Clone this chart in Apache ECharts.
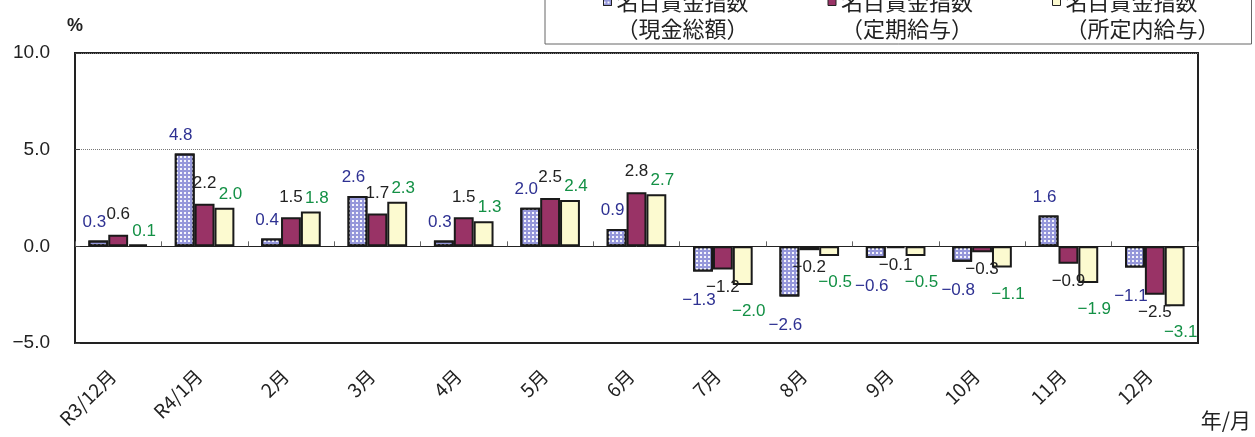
<!DOCTYPE html>
<html>
<head>
<meta charset="utf-8">
<script src="https://cdn.jsdelivr.net/npm/echarts@6/dist/echarts.min.js"></script>
<style>
  html, body { margin: 0; padding: 0; background: #fff; }
  #main { width: 1255px; height: 437px; }
</style>
</head>
<body>
<div id="main"></div>
<script>
// 月（カテゴリ）
var months = ['R3/12月', 'R4/1月', '2月', '3月', '4月', '5月', '6月', '7月', '8月', '9月', '10月', '11月', '12月']
// 名目賃金指数 前年同月比（%）
var genkin = [0.3, 4.8, 0.4, 2.6, 0.3, 2.0, 0.9, -1.3, -2.6, -0.6, -0.8, 1.6, -1.1]
var teiki = [0.6, 2.2, 1.5, 1.7, 1.5, 2.5, 2.8, -1.2, -0.2, -0.1, -0.3, -0.9, -2.5]
var shoteinai = [0.1, 2.0, 1.8, 2.3, 1.3, 2.4, 2.7, -2.0, -0.5, -0.5, -1.1, -1.9, -3.1]
var seriesNames = ['名目賃金指数\n（現金総額）', '名目賃金指数\n（定期給与）', '名目賃金指数\n（所定内給与）']
var yTicks = [-5, 0, 5, 10]

var fontJP = '"Noto Sans CJK JP", "Liberation Sans", sans-serif'
var fontNum = '"Liberation Sans", "Noto Sans CJK JP", sans-serif'

function fmt (v) {
  var s = Math.abs(v).toFixed(1)
  return v < 0 ? '\u2212' + s : s
}

// 正の値は上、負の値は下にラベル
function toData (arr, posDist, negDist) {
  return arr.map(function (v) {
    return {
      value: v,
      label: v < 0 ? { position: 'bottom', distance: negDist } : { position: 'top', distance: posDist }
    }
  })
}

function makeSeries (name, arr, color, labelColor, lbl, decal) {
  var s = {
    name: name,
    type: 'bar',
    xAxisIndex: 0,
    barGap: '0%',
    barCategoryGap: '31%',
    data: toData(arr, lbl.pos, lbl.neg),
    itemStyle: {
      color: color,
      borderColor: '#1a1a1a',
      borderWidth: 2
    },
    label: {
      show: true,
      color: labelColor,
      fontSize: 17,
      offset: [lbl.dx, 0],
      fontFamily: fontNum,
      formatter: function (p) { return fmt(p.value) }
    }
  }
  if (decal) s.itemStyle.decal = decal
  return s
}

var chart = echarts.init(document.getElementById('main'))
chart.setOption({
  animation: false,
  textStyle: { fontFamily: fontJP },
  grid: {
    left: 75,
    right: 57,
    top: 53,
    bottom: 94,
    show: true,
    borderColor: '#222',
    borderWidth: 2,
    containLabel: false
  },
  legend: {
    left: 545,
    top: -39,
    padding: [0, 32, 2, 58],
    itemGap: 79,
    itemWidth: 8,
    itemHeight: 8,
    borderColor: '#666',
    borderWidth: 1,
    icon: 'rect',
    selectedMode: false,
    itemStyle: { borderColor: '#222', borderWidth: 1 },
    textStyle: {
      fontSize: 22,
      lineHeight: 27,
      color: '#222',
      fontFamily: fontJP
    },
    formatter: function (n) { return '\n' + n },
    data: seriesNames
  },
  xAxis: [{
    type: 'category',
    data: months,
    position: 'bottom',
    axisLine: { onZero: false, lineStyle: { color: '#222', width: 2 } },
    axisTick: { show: false },
    axisLabel: {
      interval: 0,
      rotate: 45,
      fontSize: 19,
      color: '#222',
      margin: 24,
      padding: [0, 8, 0, 0],
      fontFamily: fontJP
    }
  }, {
    type: 'category',
    data: months,
    position: 'bottom',
    axisLine: { onZero: true, lineStyle: { color: '#222', width: 1 } },
    axisTick: { show: true, inside: true, length: 5, lineStyle: { color: '#666' } },
    axisLabel: { show: false }
  }],
  yAxis: {
    type: 'value',
    min: yTicks[0],
    max: yTicks[yTicks.length - 1],
    interval: 5,
    name: '%',
    nameGap: 18,
    nameTextStyle: { fontSize: 18, color: '#222', fontFamily: fontNum, fontWeight: 'bold', align: 'center' },
    axisLine: { show: true, lineStyle: { color: '#222', width: 2 } },
    axisTick: { show: true, inside: true, length: 5, lineStyle: { color: '#444' } },
    axisLabel: {
      fontSize: 19,
      color: '#222',
      margin: 25,
      fontFamily: fontNum,
      formatter: function (v) { return fmt(v) }
    },
    splitLine: { show: true, lineStyle: { color: '#777', type: [1, 1], width: 1 } }
  },
  graphic: [{
    type: 'text',
    right: 4,
    top: 410,
    style: { text: '年/月', fontSize: 21, fill: '#222', fontFamily: fontJP }
  }],
  series: [
    makeSeries(seriesNames[0], genkin, '#9597da', '#2e3192', { pos: 10, neg: 20, dx: -4 }, {
      symbol: 'rect',
      symbolSize: 1,
      color: 'rgba(255,255,255,0.9)',
      dashArrayX: [1.5, 2],
      dashArrayY: [1.5, 2],
      rotation: 0
    }),
    makeSeries(seriesNames[1], teiki, '#993366', '#222222', { pos: 12, neg: 9, dx: 0 }),
    makeSeries(seriesNames[2], shoteinai, '#fcfad0', '#139045', { pos: 5, neg: 18, dx: 6 })
  ]
})
</script>
</body>
</html>
